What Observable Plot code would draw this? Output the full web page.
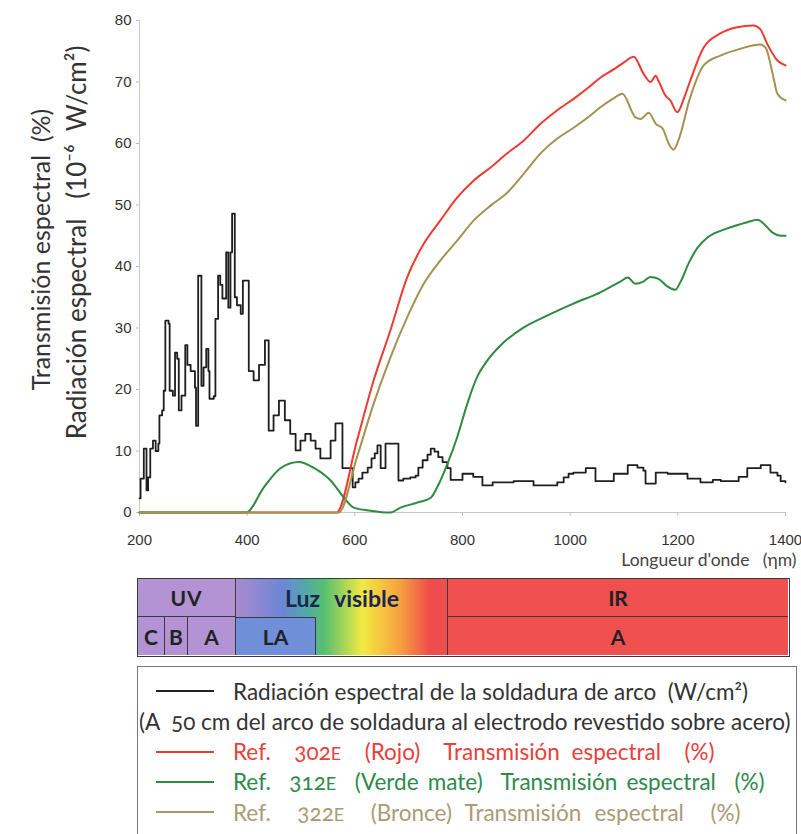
<!DOCTYPE html>
<html>
<head>
<meta charset="utf-8">
<script src="https://cdn.jsdelivr.net/npm/d3@7"></script>
<script src="https://cdn.jsdelivr.net/npm/@observablehq/plot@0.6"></script>
<style>
  body { margin: 0; background: #fff; }
  #wrap { position: relative; width: 801px; height: 834px; overflow: hidden; background: #fff; }
  #chart { position: absolute; left: 0; top: 0; }
  #bar { position: absolute; left: 137px; top: 578px; width: 653px; height: 79px; box-sizing: border-box; border: 1.5px solid #3a3a3a; }
  .cell { position: absolute; box-sizing: border-box; display: flex; align-items: center; justify-content: center;
          font-family: Lato, "Open Sans", sans-serif; font-weight: 700; font-size: 21px; color: #222; }
  #legend { position: absolute; left: 137px; top: 666px; width: 660px; height: 190px; box-sizing: border-box; border: 1.5px solid #777; }
  .lrow { position: absolute; left: 0; height: 30px; display: flex; align-items: center; font-family: Lato, "Open Sans", sans-serif; font-size: 22.5px; white-space: nowrap; font-variant-numeric: oldstyle-nums; }
  .sw { position: absolute; left: 18px; width: 58px; height: 2px; }
  .sc { font-size: 0.8em; }
</style>
</head>
<body>
<div id="wrap">
  <div id="chart"></div>
  <div id="bar"></div>
  <div id="legend"></div>
</div>
<script>
// ---------- data ----------
const xTicks = [200, 400, 600, 800, 1000, 1200, 1400];
const yTicks = [0, 10, 20, 30, 40, 50, 60, 70, 80];

// Arc-welding spectral radiation (10^-6 W/cm2), stepwise
const blackX = [200,202,208,213,216,220,225,230,235,237,242,245,248,254,256,262,266,270,273,278,285,289,295,303,305,309,315,319,324,328,330,338,341,346,350,354,361,365,369,372,377,381,388,392,403,412,422,433,440,449,459,470,480,490,499,508,518,527,536,555,564,577,596,601,607,614,624,631,637,642,648,657,681,690,703,713,718,726,735,741,748,755,763,772,778,800,820,837,856,895,932,976,988,997,1006,1029,1047,1081,1107,1125,1136,1140,1159,1181,1218,1242,1265,1280,1313,1329,1354,1372,1385,1391,1400];
const blackY = [2.3,5.5,10.4,3.6,5.7,10.4,11.7,10,11.2,15.8,16.6,19.8,31.2,30.7,19.8,19,26,25,16.6,19,27.2,24,23,20.3,14.1,38.5,20.6,23.6,26.6,23,18.5,18.9,31.5,38.5,37,34.8,42.3,33.3,42.3,48.6,35,33.7,32.3,37.7,23,21.5,24,28,13.3,15.8,18.2,15,12.8,10.1,11.7,12.8,11.7,10.4,8.8,11.7,14.5,7.2,4.1,4.9,5.5,6.5,7.3,8.8,9.6,10.9,7.2,11.2,5.2,5.5,5.7,6,7.3,8.5,9.4,10.4,9.9,9,8.2,7.2,5.3,6.3,5.8,4.4,4.9,5.1,4.4,4.9,5.7,6.3,6.5,7.2,5.1,6.3,7.7,7.3,6.8,4.7,6.5,6.3,5.5,4.9,5.3,5.1,5.8,7.2,7.7,6.5,6,5.1,4.9];

// Ref. 302E (Rojo) transmission (%)
const redX = [200,566,604,635,666,697,728,759,790,821,852,883,914,945,976,1007,1038,1056,1080,1100,1118,1136,1149,1159,1164,1177,1186,1199,1212,1223,1248,1279,1310,1340,1353,1366,1385,1400];
const redY = [0,0,11.7,21.5,29.6,38.2,43.7,47.5,51.2,54,56.1,58.4,60.5,63.2,65.4,67.3,69.4,70.7,72,73.2,74.1,71.4,70,71,70.2,67.8,67,65.1,67.5,70.2,75.6,77.9,78.9,79.2,78.6,76.2,73.5,72.7];

// Ref. 312E (Verde mate) transmission (%)
const greenX = [200,398,431,462,496,523,555,580,598,629,666,685,716,741,753,772,790,809,827,846,871,914,957,1007,1056,1094,1107,1121,1135,1149,1164,1180,1195,1205,1220,1237,1255,1292,1329,1348,1359,1376,1391,1400];
const greenY = [0,0,4.1,7.2,8.2,7.3,5.2,2.4,0.8,0.3,0,0.8,1.6,2.4,4.1,7.9,12.2,17.7,22,24.7,27.2,30.1,32,34,35.8,37.6,38.2,37.2,37.5,38.3,38,36.8,36.2,37.5,40.5,43.1,44.7,46.2,47.2,47.6,47,45.5,45,45];

// Ref. 322E (Bronce) transmission (%)
const oliveX = [200,570,604,635,666,697,728,759,790,821,852,883,914,945,976,1007,1038,1056,1080,1097,1121,1131,1146,1159,1172,1183,1192,1201,1223,1248,1279,1316,1353,1363,1376,1385,1400];
const oliveY = [0,0,9,17.7,25.2,31.7,37.2,41,44.2,47.5,49.9,52,55.1,58.4,60.8,62.6,64.6,65.9,67.3,68.1,64.3,64,65,63.2,62.4,60,59,60.5,67.5,72.7,74.3,75.4,76.1,75.6,71.4,68.1,67];

const xLabel = "Longueur d'onde   (ηm)";
const yTitle1 = "Transmisión espectral  (%)";
const yTitle2 = "Radiación espectral   (10⁻⁶  W/cm²)";

const topBands = ["UV", "Luz visible", "IR"];
const bottomBands = ["C", "B", "A", "LA", "A"];

const legendItems = [
  {swatch: "#222", color: "#333", ws: 0, html: "Radiación espectral de la soldadura de arco&nbsp; (W/cm²)"},
  {swatch: null, color: "#333", ws: 0, html: "(A&nbsp; 50 cm del arco de soldadura al electrodo revestido sobre acero)"},
  {swatch: "#ee3b30", color: "#e8403a", ws: 6, html: "Ref.&nbsp; 302<span class='sc'>E</span>&nbsp; (Rojo)&nbsp; Transmisión espectral&nbsp; (%)"},
  {swatch: "#2d8a40", color: "#2e8a4c", ws: 3.5, html: "Ref.&nbsp; 312<span class='sc'>E</span>&nbsp; (Verde mate)&nbsp; Transmisión espectral&nbsp; (%)"},
  {swatch: "#a89870", color: "#a99b76", ws: 7.5, html: "Ref.&nbsp; 322<span class='sc'>E</span>&nbsp; (Bronce) Transmisión espectral&nbsp; (%)"}
];

// ---------- chart ----------
const toRows = (xs, ys) => xs.map((x, i) => ({x, y: ys[i]}));
const black = toRows(blackX, blackY);
const red = toRows(redX, redY);
const green = toRows(greenX, greenY);
const olive = toRows(oliveX, oliveY);
const hum = "Lato, 'Open Sans', sans-serif";

const chart = Plot.plot({
  width: 801,
  height: 570,
  marginLeft: 139,
  marginRight: 16,
  marginTop: 20,
  marginBottom: 58,
  style: {fontFamily: "'Liberation Sans', Arial, sans-serif", fontSize: "15px", color: "#333", background: "transparent", overflow: "visible"},
  x: {domain: [200, 1400]},
  y: {domain: [0, 80]},
  marks: [
    Plot.ruleY([0], {stroke: "#c8c8c8"}),
    Plot.ruleX([200], {stroke: "#c8c8c8"}),
    Plot.axisX({ticks: xTicks, tickFormat: d => String(d), tickSize: 4, tickPadding: 18, stroke: "#bbb", fill: "#333", label: null, fontSize: 15}),
    Plot.axisY({ticks: yTicks, tickSize: 3, tickPadding: 5, stroke: "#bbb", fill: "#333", label: null, fontSize: 15}),
    Plot.line(black, {x: "x", y: "y", curve: "step-after", stroke: "#1e1e1e", strokeWidth: 1.8}),
    Plot.line(red, {x: "x", y: "y", curve: "monotone-x", stroke: "#ee3b30", strokeWidth: 2}),
    Plot.line(green, {x: "x", y: "y", curve: "monotone-x", stroke: "#2d8a40", strokeWidth: 2}),
    Plot.line(olive, {x: "x", y: "y", curve: "monotone-x", stroke: "#a39250", strokeWidth: 2}),
    Plot.text([xLabel], {frameAnchor: "bottom-right", dx: 11, dy: 53, textAnchor: "end", fontSize: 17.5, fill: "#444", fontFamily: hum}),
    Plot.text([yTitle1], {frameAnchor: "left", textAnchor: "middle", rotate: -90, dx: -98, dy: -17, fontSize: 25, fill: "#333", fontFamily: hum}),
    Plot.text([yTitle2], {frameAnchor: "left", textAnchor: "middle", rotate: -90, dx: -62, dy: -24, fontSize: 26, fill: "#333", fontFamily: hum})
  ]
});
document.getElementById("chart").appendChild(chart);

// ---------- spectrum bar ----------
const bar = document.getElementById("bar");
const bw = 653, rowH = 38;
function cell(left, top, width, height, text, bg, borders) {
  const d = document.createElement("div");
  d.className = "cell";
  Object.assign(d.style, {left: left + "px", top: top + "px", width: width + "px", height: height + "px", background: bg});
  if (borders) Object.assign(d.style, borders);
  d.textContent = text;
  bar.appendChild(d);
  return d;
}
const lav = "#b493d4", irRed = "#f05050", laBlue = "#6f8fd8";
const line = "1.5px solid #3a3a3a";
const visGrad = "linear-gradient(to right, #a98bd0 0%, #6d86d6 22%, #52a8a8 33%, #58c070 42%, #f2ea42 60%, #f7a040 78%, #ef4b4b 92%, #f05050 100%)";
// top row
const uv = cell(0, 0, 98, rowH, topBands[0], lav, {borderRight: line, borderBottom: line});
uv.style.letterSpacing = "1px";
cell(98, 0, 212, rowH * 2, "", visGrad, {borderRight: line});
const lv = cell(98, 0, 212, rowH, topBands[1], "transparent");
lv.style.color = "#1c2450";
lv.style.fontSize = "23px";
lv.style.wordSpacing = "9px";
cell(310, 0, bw - 313, rowH, topBands[2], irRed, {borderBottom: line});
// bottom row
cell(0, rowH, 27, rowH, bottomBands[0], lav, {borderRight: line});
cell(27, rowH, 23, rowH, bottomBands[1], lav, {borderRight: line});
cell(50, rowH, 48, rowH, bottomBands[2], lav, {borderRight: line});
cell(98, rowH, 80, rowH, bottomBands[3], laBlue, {borderRight: line, borderTop: line});
cell(310, rowH, bw - 313, rowH, bottomBands[4], irRed);

// ---------- legend ----------
const legend = document.getElementById("legend");
legendItems.forEach((it, i) => {
  const row = document.createElement("div");
  row.className = "lrow";
  row.style.top = (9 + i * 30.3) + "px";
  row.style.width = "660px";
  if (it.swatch) {
    const sw = document.createElement("div");
    sw.className = "sw";
    sw.style.background = it.swatch;
    sw.style.top = "14px";
    row.appendChild(sw);
  }
  const t = document.createElement("span");
  t.style.position = "absolute";
  t.style.left = it.swatch ? "95px" : "1px";
  t.style.color = it.color;
  t.style.wordSpacing = it.ws + "px";
  t.innerHTML = it.html;
  row.appendChild(t);
  legend.appendChild(row);
});
</script>
</body>
</html>
